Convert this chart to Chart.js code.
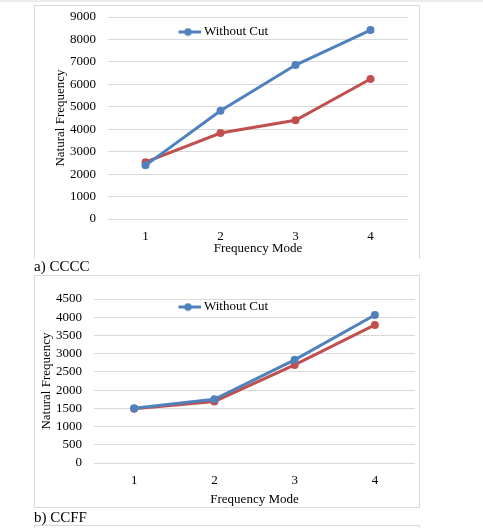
<!DOCTYPE html>
<html>
<head>
<meta charset="utf-8">
<script src="https://cdn.jsdelivr.net/npm/chart.js@4.4.1/dist/chart.umd.min.js"></script>
<style>
  body { margin: 0; background: #fff; width: 483px; height: 528px; position: relative; overflow: hidden;
         font-family: "Liberation Serif", "Times New Roman", serif; }
  .topband { position: absolute; left: 0; top: 0; width: 483px; height: 2px; background: #ececec; }
  .box { position: absolute; border: 1px solid #d9d9d9; box-sizing: border-box; }
  .caption { position: absolute; left: 34px; font-size: 15px; color: #000; line-height: 18px; }
  canvas { position: absolute; }
</style>
</head>
<body>
<div class="topband"></div>

<div class="box" style="left:34px;top:5px;width:386px;height:254px;border-bottom:none;"></div>
<canvas id="chartA" width="384" height="252" style="left:35px;top:6px;"></canvas>
<div class="caption" style="top:257px;">a) CCCC</div>

<div class="box" style="left:34px;top:275px;width:386px;height:233px;"></div>
<canvas id="chartB" width="384" height="231" style="left:35px;top:276px;"></canvas>
<div class="caption" style="top:508px;">b) CCFF</div>

<div class="box" style="left:34px;top:525px;width:386px;height:10px;"></div>

<script>
// data
var modes = ["1", "2", "3", "4"];
var seriesNames = ["Without Cut", "With Cut"];

var ccccWithout = [2390, 4820, 6860, 8420];
var ccccWith    = [2530, 3830, 4400, 6240];

var ccffWithout = [1500, 1750, 2830, 4060];
var ccffWith    = [1490, 1690, 2690, 3790];

var blue = "#4F81BD";
var red = "#C0504D";
var serif = "'Liberation Serif', 'Times New Roman', serif";

// legend marker: thick line with a dot in the middle
function lineMarker(col) {
    var c = document.createElement("canvas");
    c.width = 26; c.height = 9;
    var g = c.getContext("2d");
    g.strokeStyle = col; g.lineWidth = 3;
    g.beginPath(); g.moveTo(0, 4.5); g.lineTo(26, 4.5); g.stroke();
    g.fillStyle = col;
    g.beginPath(); g.arc(13, 4.5, 3.8, 0, Math.PI * 2); g.fill();
    return c;
}

// legend sits inside the plot area, shifted from its top-left corner
var legendShift = {
    id: "legendShift",
    afterLayout: function(chart, args, opts) {
        var lg = chart.legend;
        if (!lg) return;
        var w = lg.right - lg.left, h = lg.bottom - lg.top;
        lg.left = chart.chartArea.left + opts.x;
        lg.top = chart.chartArea.top + opts.y;
        lg.right = lg.left + w;
        lg.bottom = lg.top + h;
    }
};

function makeChart(id, without, withCut, yMax, yStep, L) {
    var ctx = document.getElementById(id);
    return new Chart(ctx, {
        type: "line",
        data: {
            labels: modes,
            datasets: [{
                label: seriesNames[0],
                data: without,
                borderColor: blue,
                backgroundColor: blue,
                borderWidth: 3,
                pointRadius: 4,
                pointBorderWidth: 0,
                fill: false,
                tension: 0
            }, {
                label: seriesNames[1],
                data: withCut,
                borderColor: red,
                backgroundColor: red,
                borderWidth: 3,
                pointRadius: 4,
                pointBorderWidth: 0,
                fill: false,
                tension: 0
            }]
        },
        options: {
            responsive: false,
            animation: false,
            devicePixelRatio: 1,
            layout: { padding: { left: 0, right: L.padRight, top: L.padTop, bottom: 0 } },
            plugins: {
                tooltip: { enabled: false },
                legendShift: { x: L.legX, y: L.legY },
                legend: {
                    position: "chartArea",
                    align: "start",
                    labels: {
                        usePointStyle: true,
                        pointStyleWidth: 19,
                        padding: 0,
                        color: "#000",
                        font: { family: serif, size: 13 },
                        filter: function(item) { return item.datasetIndex === 0; },
                        generateLabels: function(chart) {
                            return chart.data.datasets.map(function(ds, i) {
                                return {
                                    text: ds.label,
                                    pointStyle: lineMarker(ds.borderColor),
                                    fillStyle: ds.borderColor,
                                    strokeStyle: ds.borderColor,
                                    lineWidth: 0,
                                    datasetIndex: i
                                };
                            });
                        }
                    }
                }
            },
            scales: {
                x: {
                    offset: true,
                    grid: { display: false, drawTicks: false },
                    border: { display: false },
                    ticks: { color: "#000", padding: 10, font: { family: serif, size: 13 } },
                    title: {
                        display: true, text: "Frequency Mode", color: "#000",
                        font: { family: serif, size: 13 },
                        padding: { top: 0, bottom: L.xTitleB }
                    },
                    afterFit: function(s) { s.height = L.xH; }
                },
                y: {
                    min: 0, max: yMax,
                    grid: { color: "#d9d9d9", lineWidth: 1, drawTicks: false },
                    border: { display: false },
                    ticks: {
                        stepSize: yStep, autoSkip: false, color: "#000", padding: 12,
                        font: { family: serif, size: 13 },
                        callback: function(v) { return String(v); }
                    },
                    title: {
                        display: true, text: "Natural Frequency", color: "#000",
                        font: { family: serif, size: 13 },
                        padding: { top: L.yTitleT, bottom: 0 }
                    },
                    afterFit: function(s) {
                        s.width = L.yW;
                        s.paddingTop = 0;
                        s.paddingBottom = 0;
                    }
                }
            }
        },
        plugins: [legendShift]
    });
}

makeChart("chartA", ccccWithout, ccccWith, 9000, 1000,
    { padRight: 11, padTop: 11, xH: 39, yW: 73, xTitleB: 2, yTitleT: 18, legX: 70.5, legY: 8.5 });
makeChart("chartB", ccffWithout, ccffWith, 4500, 500,
    { padRight: 1, padTop: 23, xH: 44, yW: 59, xTitleB: 0, yTitleT: 4, legX: 84.5, legY: 1.5 });
</script>
</body>
</html>
